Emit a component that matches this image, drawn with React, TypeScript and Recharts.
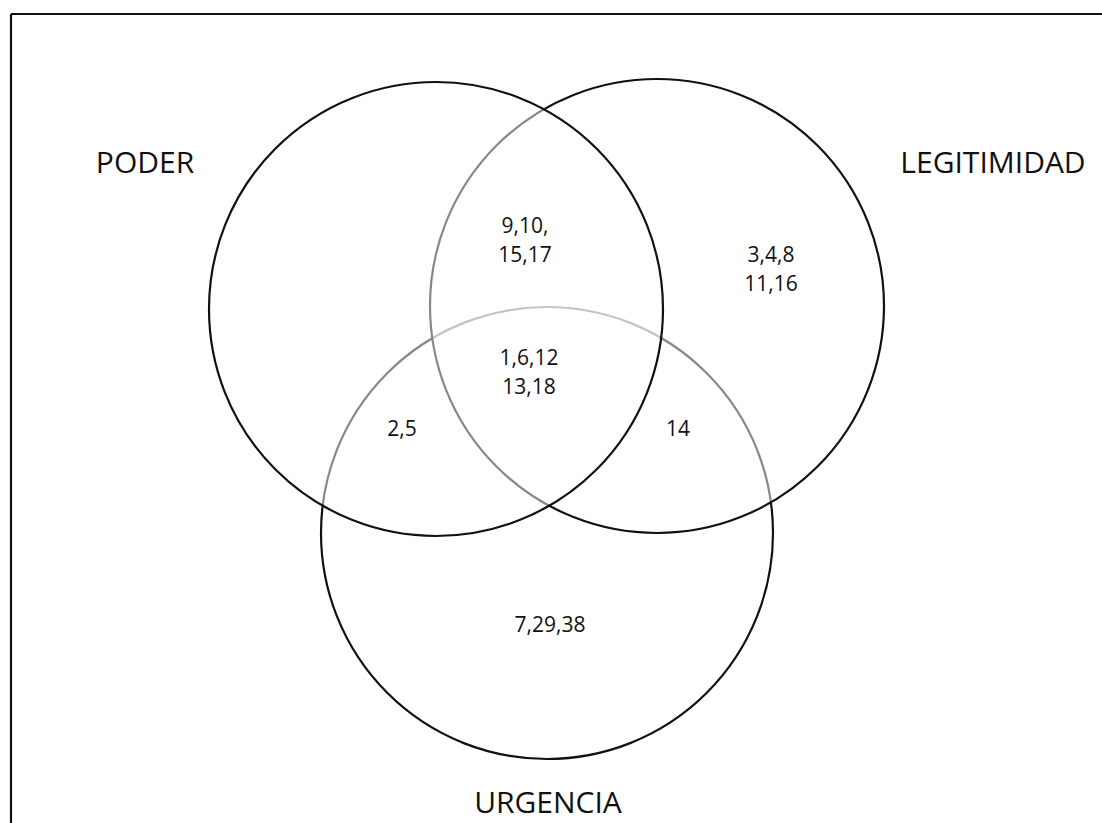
import { ScatterChart, Scatter, XAxis, YAxis, ReferenceLine } from "recharts";

const W = 1102;
const H = 823;

// circles: name, center (data units), radius (data units)
const circleNames = ["URGENCIA", "LEGITIMIDAD", "PODER"];
const circleX = [547, 657, 436];
const circleY = [533, 306, 309];
const circleR = [226, 227, 227];

// set names outside circles
const setLabels = ["PODER", "LEGITIMIDAD", "URGENCIA"];
const setLabelX = [145, 993, 548];
const setLabelY = [173, 173, 813];

// region member lists
const regionLines = [
  "9,10,", "15,17",
  "3,4,8", "11,16",
  "1,6,12", "13,18",
  "2,5", "14", "7,29,38",
];
const regionX = [525, 525, 771, 771, 529, 529, 402, 678, 550];
const regionY = [233, 262, 262, 291, 365, 394, 436, 436, 632];

const circles = circleNames.map((name, i) => ({ name, x: circleX[i], y: circleY[i], r: circleR[i] }));
const labels = setLabels.map((t, i) => ({ t, x: setLabelX[i], y: setLabelY[i], size: 30 }));
const regions = regionLines.map((t, i) => ({ t, x: regionX[i], y: regionY[i], size: 21 }));

// 1 data unit == 1px because the domains match the plot size
const pxPerUnit = 1;

function CircleShape(props: any) {
  const { cx, cy, payload } = props;
  return (
    <circle
      cx={cx}
      cy={cy}
      r={payload.r * pxPerUnit}
      fill="#ffffff"
      fillOpacity={0.5}
      stroke="#111"
      strokeWidth={2.2}
    />
  );
}

function TextShape(props: any) {
  const { cx, cy, payload } = props;
  return (
    <text x={cx} y={cy} textAnchor="middle" fontSize={payload.size} fill="#111" fontFamily="'Open Sans', sans-serif">
      {payload.t}
    </text>
  );
}

export default function App() {
  return (
    <div style={{ position: "absolute", left: 0, top: 0, width: W, height: H, background: "#fff", overflow: "hidden" }}>
      <ScatterChart width={W} height={H} margin={{ top: 0, right: 0, bottom: 0, left: 0 }}>
        <XAxis type="number" dataKey="x" domain={[0, W]} hide />
        <YAxis type="number" dataKey="y" domain={[0, H]} reversed hide />
        <ReferenceLine segment={[{ x: 11, y: 14 }, { x: W, y: 14 }]} stroke="#111" strokeWidth={2.2} />
        <ReferenceLine segment={[{ x: 11, y: 14 }, { x: 11, y: H }]} stroke="#111" strokeWidth={2.2} />
        <Scatter data={circles} shape={CircleShape} isAnimationActive={false} />
        <Scatter data={labels} shape={TextShape} isAnimationActive={false} />
        <Scatter data={regions} shape={TextShape} isAnimationActive={false} />
      </ScatterChart>
    </div>
  );
}
